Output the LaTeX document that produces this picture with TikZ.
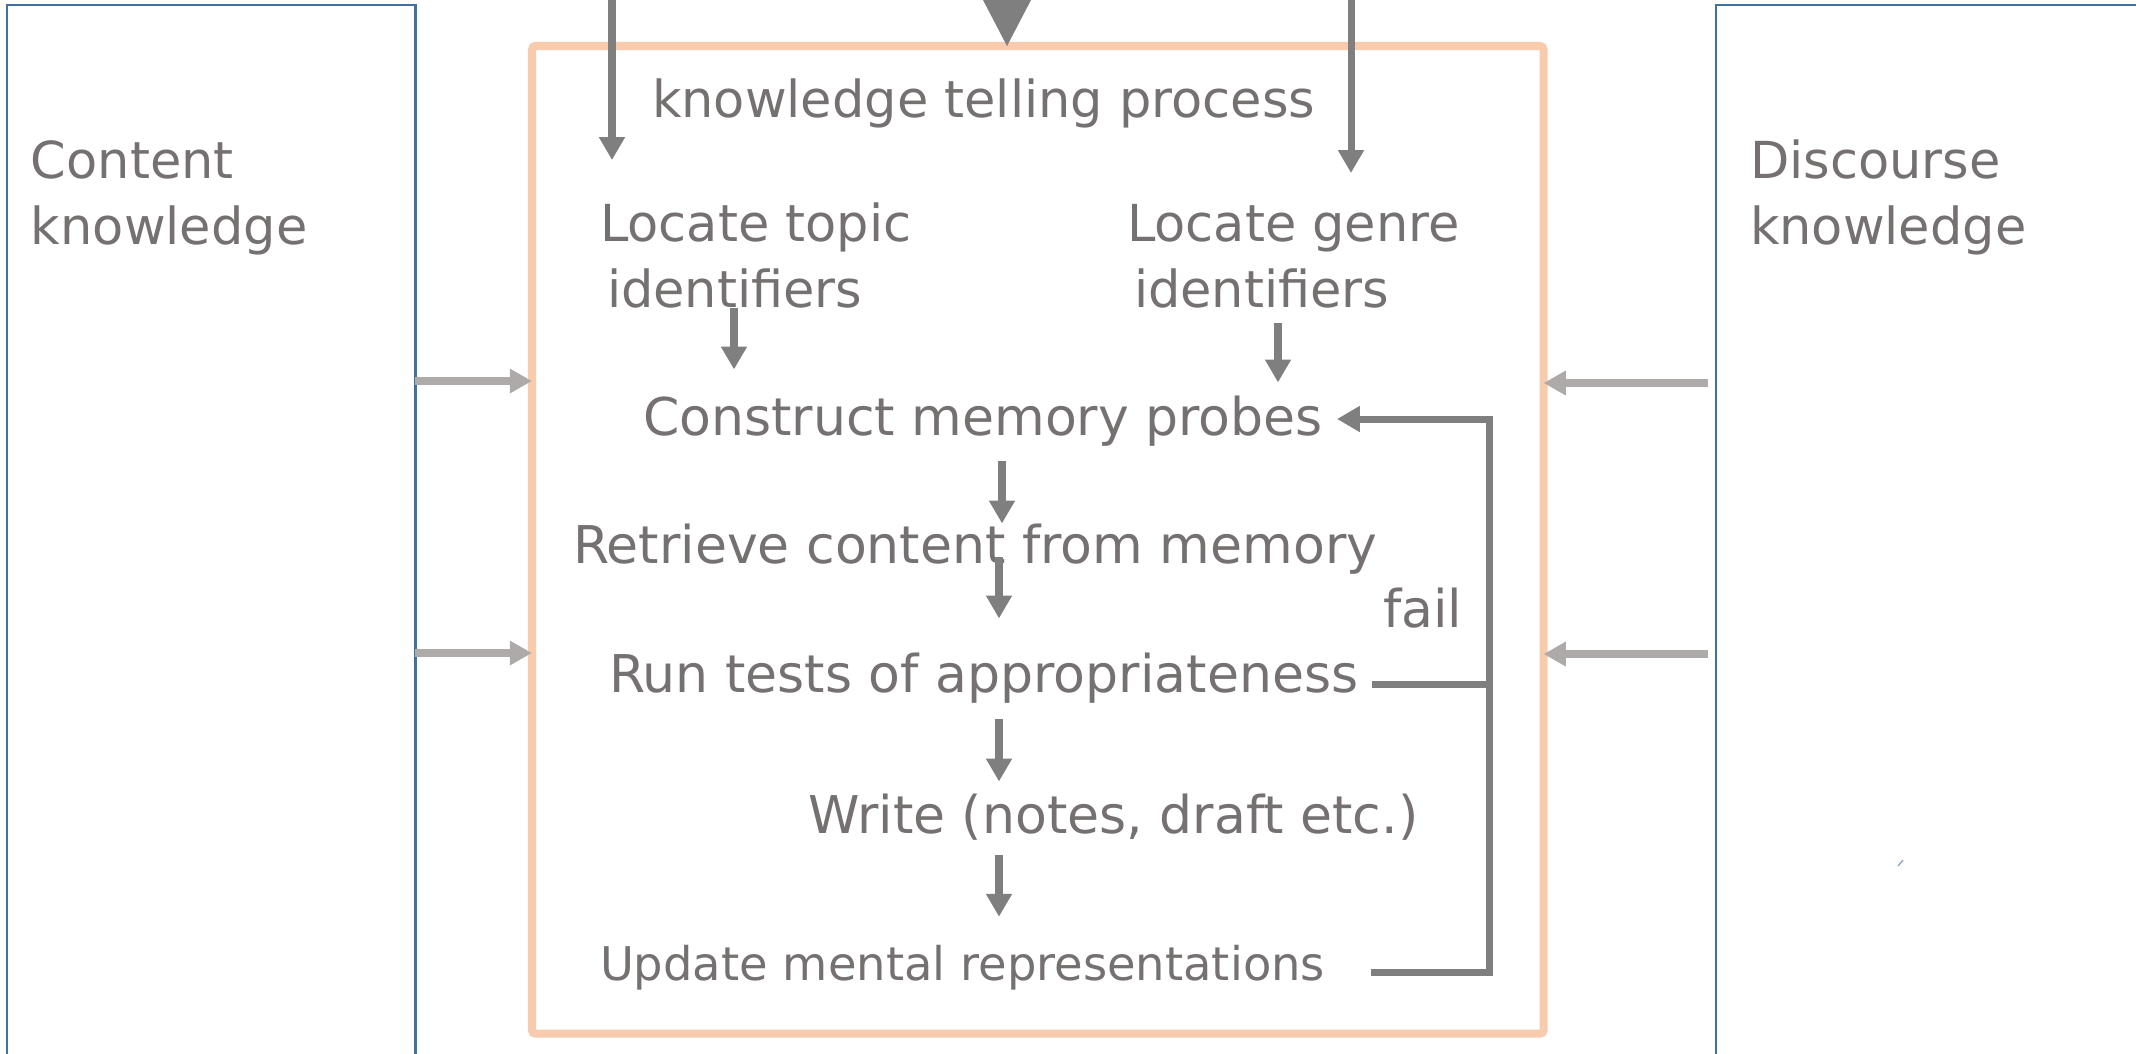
\documentclass[tikz,border=0pt]{standalone}
\usepackage{fontspec}
\setmainfont{DejaVu Sans}
\usetikzlibrary{arrows.meta}

\definecolor{txtgray}{RGB}{118,113,113}
\definecolor{arrgray}{RGB}{127,127,127}
\definecolor{lgray}{RGB}{174,170,170}
\definecolor{boxblue}{RGB}{65,113,156}
\definecolor{boxorange}{RGB}{248,203,173}

\begin{document}
\begin{tikzpicture}[x=0.01cm, y=-0.01cm,
    every node/.style={inner sep=0pt, outer sep=0pt, text=txtgray,
      font=\fontsize{14.5}{18.5}\selectfont},
    txt/.style={anchor=base west, align=left},
    steptxt/.style={txt, font=\fontsize{14.8}{18.5}\selectfont},
    kbox/.style={draw=boxblue, line width=0.8pt, anchor=north west},
    darrow/.style={draw=arrgray, line width=2pt, -{Triangle[length=6.5pt,width=7pt]}},
    dline/.style={draw=arrgray, line width=2pt},
    larrow/.style={draw=lgray, line width=2.3pt, -{Triangle[length=6.3pt,width=6.6pt]}}]

      \useasboundingbox (0,0) rectangle (2136,1053);

% Knowledge stores
      \node[kbox, minimum width=4.08cm, minimum height=11cm] (cbox) at (7,5) {};
      \node[kbox, minimum width=5cm, minimum height=11cm] (dbox) at (1716,5) {};
      \node[txt] (content) at (31,244) {Content\\knowledge};
      \node[txt] (discourse) at (1750,244) {Discourse\\knowledge};
      \draw[boxblue!60, line width=0.4pt] (1898,866) -- (1903,860);

% Process box
      \node[draw=boxorange, line width=2.3pt, rounded corners=1pt, anchor=north west,
        minimum width=10.11cm, minimum height=9.87cm] (tell) at (532,46) {};
      \node[txt] (process) at (652,117) {knowledge telling process};

% Steps
      \node[txt] (topic) at (600,307) {Locate topic\\\hspace*{2pt}identifiers};
      \node[txt] (genre) at (1127,307) {Locate genre\\\hspace*{2pt}identifiers};
      \node[steptxt] (probes) at (643,435) {Construct memory probes};
      \node[steptxt] (retrieve) at (573,563) {Retrieve content from memory};
      \node[steptxt] (fail) at (1383,627) {fail};
      \node[steptxt] (tests) at (609,692) {Run tests of appropriateness};
      \node[steptxt] (write) at (808,833) {Write (notes, draft etc.)};
      \node[txt, font=\fontsize{13.2}{16}\selectfont] (update) at (600,980) {Update mental representations};

% Inputs from above
      \coordinate (inL) at (612,0);
      \coordinate (inR) at (1351,0);
      \draw[darrow] (inL) -- ++(0,160);
      \draw[darrow] (inR) -- ++(0,173);
      \fill[arrgray] (983,0) -- (1031,0) -- (tell.north -| 1007,0) -- cycle;

% Knowledge flowing in
      \draw[larrow] (cbox.east |- 0,381) -- (tell.west |- 0,381);
      \draw[larrow] (cbox.east |- 0,653) -- (tell.west |- 0,653);
      \draw[larrow, shorten <=0.08cm] (dbox.west |- 0,383) -- (tell.east |- 0,383);
      \draw[larrow, shorten <=0.08cm] (dbox.west |- 0,654) -- (tell.east |- 0,654);

% Step arrows
      \draw[darrow, shorten >=0.26cm] (topic.south -| 734,0) -- (probes.north -| 734,0);
      \draw[darrow, shorten <=0.15cm, shorten >=0.13cm] (genre.south -| 1278,0) -- (probes.north -| 1278,0);
      \draw[darrow, shorten <=0.15cm] (probes.south -| 1002,0) -- (retrieve.north -| 1002,0);
      \draw[darrow, shorten <=-0.17cm, shorten >=0.34cm] (retrieve.south -| 999,0) -- (tests.north -| 999,0);
      \draw[darrow, shorten <=0.16cm, shorten >=0.12cm] (tests.south -| 999,0) -- (write.north -| 999,0);
      \draw[darrow, shorten <=0.15cm, shorten >=0.28cm] (write.south -| 999,0) -- (update.north -| 999,0);

% Fail loop
      \coordinate (loopTop) at (1489,419);
      \draw[darrow, shorten >=0.14cm] ([shift={(46,5)}]update.east) -| (loopTop) -- (loopTop -| probes.east);
      \draw[dline] ([shift={(14,7)}]tests.east) -| (loopTop);

\end{tikzpicture}
\end{document}
